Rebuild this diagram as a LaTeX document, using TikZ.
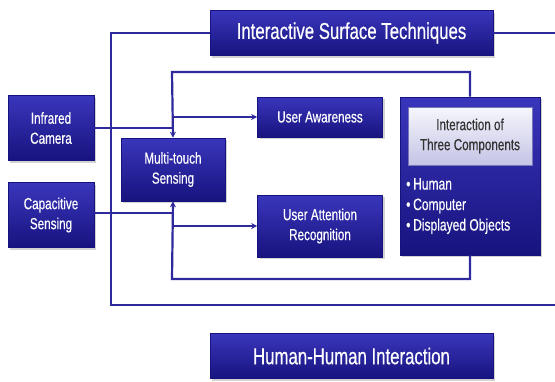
\documentclass[tikz,border=0pt]{standalone}
\usepackage{fontspec}
\setmainfont[FakeStretch=0.73,FakeBold=0.4]{Liberation Sans}
\usetikzlibrary{shadows,arrows.meta}
\definecolor{boxblue}{HTML}{1E1A8E}
\definecolor{boxtop}{HTML}{3A36BC}
\definecolor{boxbot}{HTML}{17137E}
\definecolor{linecol}{HTML}{2E2A9C}
\definecolor{lighttop}{HTML}{F6F6FC}
\definecolor{lightbot}{HTML}{C4C4E6}
\tikzset{
  x=1pt, y=-1pt,
  box/.style={rectangle, draw=boxbot, line width=0.6pt, top color=boxtop, bottom color=boxbot,
    text=white, align=center, inner sep=2pt, font=\fontsize{16}{20}\selectfont,
    drop shadow={shadow xshift=2pt, shadow yshift=-2pt, opacity=0.35}},
  bigbox/.style={box, font=\fontsize{23}{26}\selectfont},
  lightbox/.style={rectangle, draw=boxblue!60, line width=0.5pt, top color=lighttop, bottom color=lightbot,
    text=black!80, align=center, font=\fontsize{16}{20}\selectfont},
  conn/.style={draw=linecol, line width=2.2pt},
  arr/.style={conn, -{Stealth[length=6pt,width=6pt]}},
}
\begin{document}
\begin{tikzpicture}
\useasboundingbox (0,0) rectangle (555,381);
\fill[white] (0,0) rectangle (555,381);
% outer loop
\node[bigbox, minimum width=283pt, minimum height=45pt] (top) at (351.5,33) {Interactive Surface Techniques};
\coordinate (otl) at (111,33);
\coordinate (obl) at (111,305);
\coordinate (obr) at (555,305);
\coordinate (otr) at (555,33);
\draw[conn] (top.west) -- (otl) -- (obl) -- (obr);
\draw[conn] (top.east) -- (otr);
% boxes
\node[box, minimum width=86pt, minimum height=65pt] (ir) at (51,128) {Infrared\\Camera};
\node[box, minimum width=86pt, minimum height=65pt] (cap) at (51,215) {Capacitive\\Sensing};
\node[box, minimum width=104pt, minimum height=63pt] (mt) at (173,169.5) {Multi-touch\\Sensing};
\node[box, minimum width=125pt, minimum height=40pt] (ua) at (320,117) {User Awareness};
\node[box, minimum width=125pt, minimum height=62pt] (uar) at (320,226) {User Attention\\Recognition};
\node[box, minimum width=140pt, minimum height=158pt] (ia) at (470,176) {};
\node[lightbox, minimum width=124pt, minimum height=58pt] (ial) at (470,136) {Interaction of\\Three Components};
\node[text=white, align=left, anchor=north west, inner sep=0pt, font=\fontsize{16.5}{20.5}\selectfont] (list) at (406,178)
  {\textbullet\,Human\\ \textbullet\,Computer\\ \textbullet\,Displayed Objects};
\node[bigbox, minimum width=283pt, minimum height=45pt] (hhi) at (351.5,356) {Human-Human Interaction};
% inner loop
\coordinate (itr) at (470,72);
\coordinate (itl) at (172,72);
\coordinate (ibr) at (470,279);
\coordinate (ibl) at (172,279);
\draw[arr] (ia.north) -- (itr) -- (itl) -- (mt.north);
\draw[arr] (ia.south) -- (ibr) -- (ibl) -- (mt.south);
% inputs
\coordinate (irj) at (172,128);
\coordinate (capj) at (172,213);
\draw[conn] (ir.east) -- (irj);
\draw[conn] (cap.east |- capj) -- (capj);
% outputs
\coordinate (uaj) at (172,117);
\coordinate (uarj) at (172,226);
\draw[arr] (uaj) -- (ua.west);
\draw[arr] (uarj) -- (uar.west);
\end{tikzpicture}
\end{document}
